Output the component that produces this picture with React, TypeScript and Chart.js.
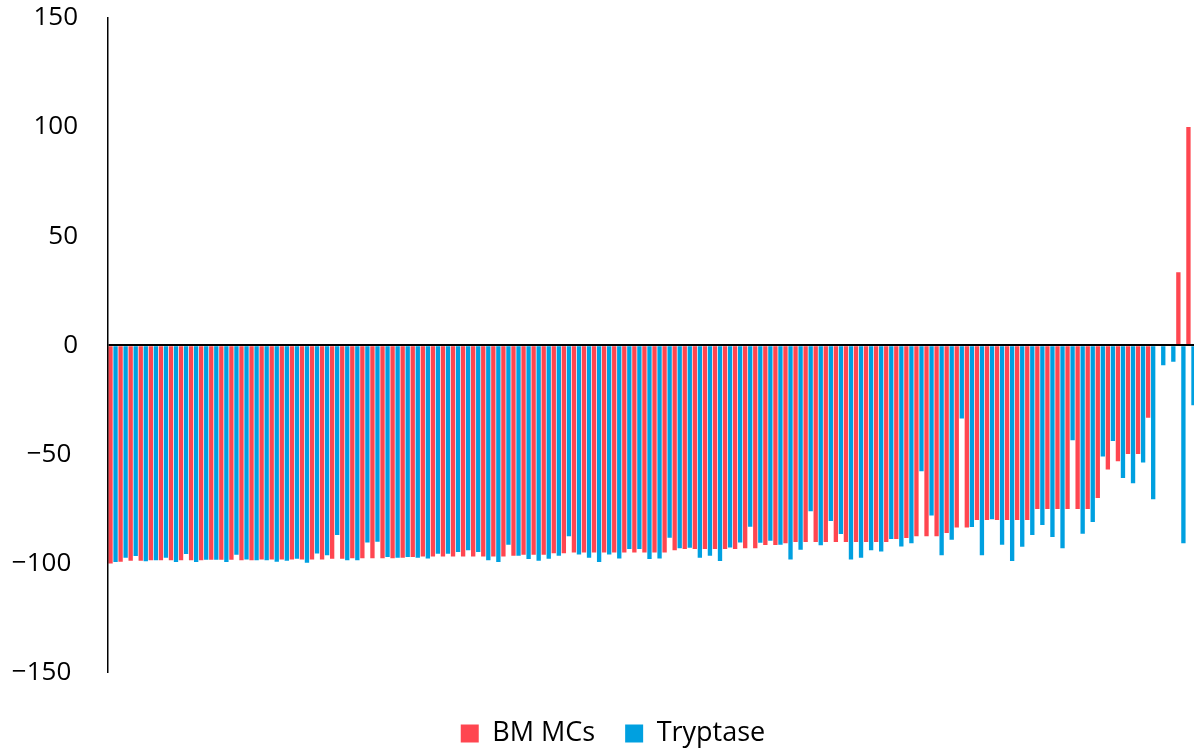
import React, { useEffect, useRef } from 'react';
import { Chart, registerables } from 'chart.js';

Chart.register(...registerables);

const bmMCs: (number | null)[] = [
  -100, -99.2, -98.8, -98.8, -98.6, -98.5, -98.6, -98.6, -98.6, -98.5,
  -98.3, -98.3, -98.3, -98.5, -98.5, -98.2, -98.2, -98.2, -98.2, -98.2,
  -98.2, -98.2, -97.9, -97.9, -97.6, -97.6, -97.6, -97.6, -97.6, -97.4,
  -97.1, -96.8, -96.8, -96.8, -96.8, -96.8, -96.8, -96.8, -96.8, -96.8,
  -96.5, -96, -96, -96, -95.3, -95.3, -95, -95, -95, -95,
  -95, -95, -95, -95, -95, -95, -94, -93.4, -93.4, -93.4,
  -93.4, -93.4, -93.4, -93, -93, -91.6, -91.6, -90.8, -90.2, -90.2,
  -90.2, -90.2, -90.2, -90.2, -90.2, -90.2, -90.2, -90.2, -88.8, -88.4,
  -87.6, -87.6, -87.6, -86.1, -83.5, -83.5, -80.1, -80.1, -80.1, -80.1,
  -80.1, -80.1, -75.1, -75.1, -75.1, -75.1, -75.1, -75, -70, -57,
  -53.2, -49.8, -49.8, -33.2, null, null, 33.5, 100,
];

const tryptase: number[] = [
  -99.4, -97.4, -96.6, -99, -98.6, -97.4, -99.4, -95.7, -99.4, -98.3,
  -98.3, -99.4, -96, -98.2, -98.5, -98.5, -99.2, -98.8, -97.9, -99.7,
  -95.4, -96.3, -87, -98.6, -98.6, -90.4, -90.1, -97.1, -97.4, -97.1,
  -97.4, -97.7, -95.6, -95.6, -94.8, -94, -94.8, -98.6, -99.4, -91.4,
  -96.5, -98, -98.8, -97.9, -96.5, -87.6, -95.9, -97.4, -99.4, -95.9,
  -97.7, -93.4, -93.4, -98, -97.7, -88.2, -93, -92.8, -97.4, -96.5,
  -98.9, -92.7, -90.4, -83.2, -90.5, -89.6, -91.4, -98.2, -93.7, -76.1,
  -91.7, -80.6, -86.5, -98.2, -97.4, -94, -94.5, -88.8, -92.2, -90.7,
  -57.8, -78, -96.3, -89.1, -33.6, -83.3, -96.3, -79.8, -91.4, -98.9,
  -92.4, -87, -82.4, -87.9, -93, -43.6, -86.4, -81, -51, -43.9,
  -60.9, -63.3, -53.7, -70.6, -9.2, -7.6, -90.7, -27.5,
];

const categories = bmMCs.map((_, i) => `Patient ${i + 1}`);
const seriesNames = ['BM MCs', 'Tryptase'];
const yMin = -150;
const yMax = 150;
const yStep = 50;

const CANVAS_W = 1226;
const CANVAS_H = 757;

export default function App() {
  const ref = useRef<HTMLCanvasElement>(null);

  useEffect(() => {
    if (!ref.current) return;
    const chart = new Chart(ref.current, {
      type: 'bar',
      data: {
        labels: categories,
        datasets: [
          {
            label: seriesNames[0],
            data: bmMCs,
            backgroundColor: '#FF4650',
            categoryPercentage: 1,
            barPercentage: 0.86,
          },
          {
            label: seriesNames[1],
            data: tryptase,
            backgroundColor: '#00A0E0',
            categoryPercentage: 1,
            barPercentage: 0.86,
          },
        ],
      },
      options: {
        animation: false,
        responsive: false,
        devicePixelRatio: 1,
        layout: { padding: { left: 0, right: 0, top: 18, bottom: 0 } },
        plugins: {
          legend: {
            position: 'bottom',
            labels: {
              font: { family: 'Open Sans', size: 27 },
              color: '#000',
              boxWidth: 18,
              boxHeight: 18,
              padding: 30,
            },
          },
          tooltip: { enabled: false },
        },
        scales: {
          x: {
            display: true,
            grid: { display: false },
            border: { display: false },
            ticks: { display: false },
            afterFit: (s: any) => {
              s.height = 17.5;
            },
          },
          y: {
            min: yMin,
            max: yMax,
            ticks: {
              stepSize: yStep,
              padding: 30,
              color: '#000',
              font: { family: 'Open Sans', size: 26 },
              callback: (v: any) => (Number(v) < 0 ? '\u2212' + Math.abs(Number(v)) + ' ' : String(v)),
            },
            grid: {
              drawTicks: false,
              z: 1,
              color: (ctx: any) => (ctx.tick && ctx.tick.value === 0 ? '#000' : 'rgba(0,0,0,0)'),
              lineWidth: (ctx: any) => (ctx.tick && ctx.tick.value === 0 ? 2 : 0),
            },
            border: { display: true, color: '#000', width: 1.5, z: 1 },
            afterFit: (s: any) => {
              s.width = 108;
              s.paddingTop = 0;
              s.paddingBottom = 0;
            },
          },
          yRight: {
            type: 'linear',
            position: 'right',
            display: true,
            grid: { display: false },
            border: { display: false },
            ticks: { display: false },
            afterFit: (s: any) => {
              s.width = 30;
              s.paddingTop = 0;
              s.paddingBottom = 0;
            },
          },
        },
      },
    });
    return () => chart.destroy();
  }, []);

  return (
    <div style={{ position: 'fixed', left: 0, top: 0, width: 1194, height: 748, overflow: 'hidden', background: '#fff' }}>
      <canvas
        ref={ref}
        width={CANVAS_W}
        height={CANVAS_H}
        style={{ display: 'block', width: CANVAS_W, height: CANVAS_H }}
      />
    </div>
  );
}
